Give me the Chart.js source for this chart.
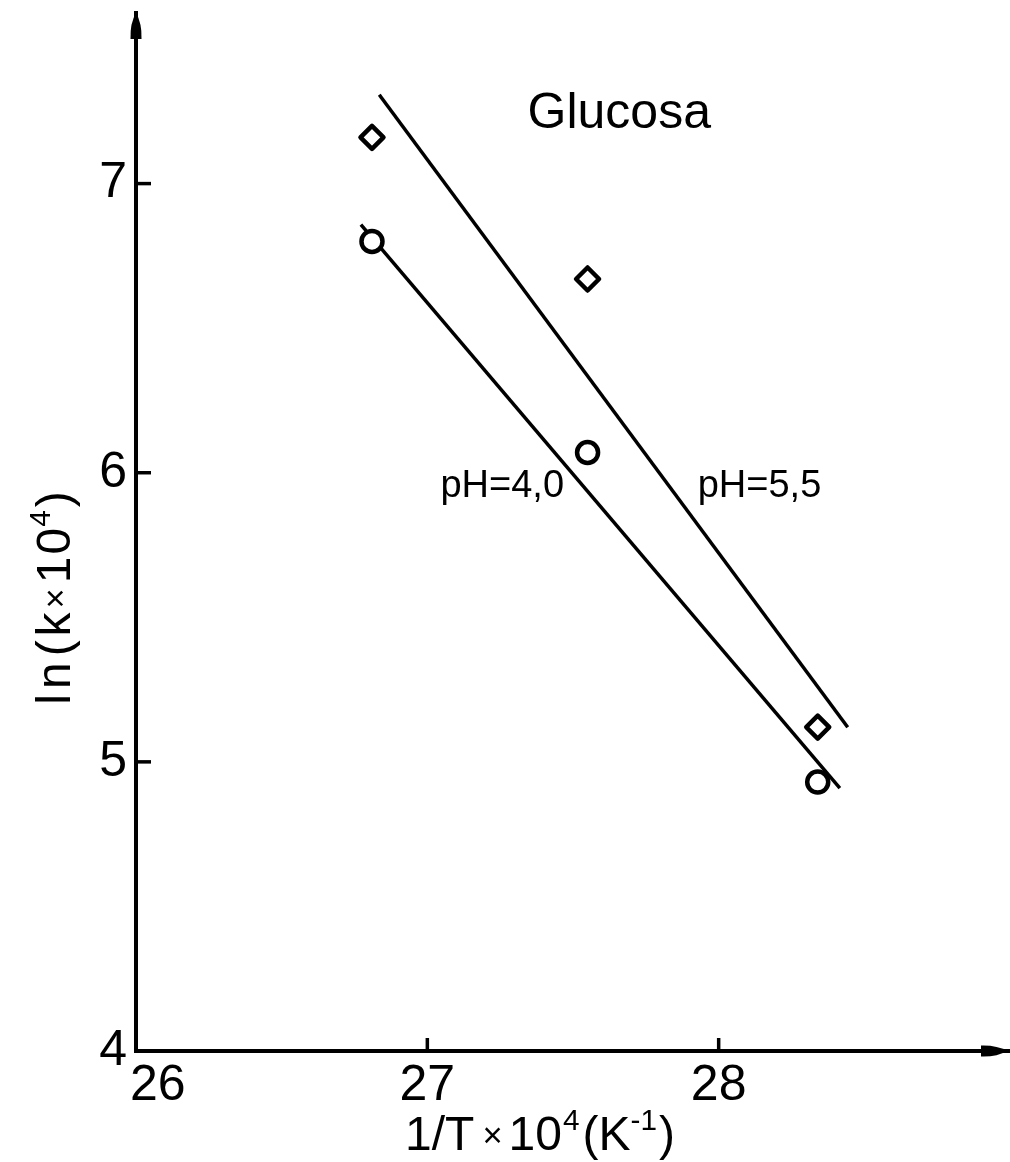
<!DOCTYPE html>
<html>
<head>
<meta charset="utf-8">
<script src="https://cdn.jsdelivr.net/npm/chart.js@4.4.1/dist/chart.umd.min.js"></script>
<style>
  html, body { margin: 0; padding: 0; background: #fff; }
  canvas { display: block; }
</style>
</head>
<body>
<canvas id="c" width="1010" height="1162"></canvas>
<script>
// 1/T x 10^4 (K^-1) for the three runs
const invT = [26.81, 27.55, 28.34];
// ln(k x 10^4) measured at pH 5.5 (diamonds) and pH 4.0 (circles)
const lnK_pH55 = [7.16, 6.67, 5.12];
const lnK_pH40 = [6.80, 6.07, 4.93];
// end points of the two fitted straight lines
const fit55X = [26.835, 28.443];
const fit55Y = [7.307, 5.120];
const fit40X = [26.772, 28.416];
const fit40Y = [6.858, 4.909];
// axis ticks and ranges
const xTicks = [26, 27, 28];
const yTicks = [4, 5, 6, 7];
const xRange = [26, 29];
const yRange = [4, 7.59];

const FONT = "'Liberation Sans', Arial, sans-serif";
const INK = '#000';

const toXY = (xs, ys) => xs.map((x, i) => ({ x, y: ys[i] }));

// draws a run of text pieces (with optional superscripts), centred on the origin
function drawRich(ctx, parts, size) {
  const items = [];
  parts.forEach(p => {
    const fs = size * (p.scale || 1);
    ctx.font = `${fs}px ${FONT}`;
    items.push({ t: p.t, fs, w: ctx.measureText(p.t).width, gap: p.gap || 0, rise: p.sup ? size * 0.42 : (p.rise || 0) });
  });
  const total = items.reduce((s, it) => s + it.w + it.gap, 0);
  let cx = -total / 2;
  ctx.textAlign = 'left';
  ctx.textBaseline = 'alphabetic';
  items.forEach(it => {
    cx += it.gap;
    ctx.font = `${it.fs}px ${FONT}`;
    ctx.fillText(it.t, cx, -it.rise);
    cx += it.w;
  });
}

const decor = {
  id: 'decor',
  beforeDatasetsDraw(chart) {
    chart.ctx.lineJoin = 'round';
  },
  afterDraw(chart, args, opts) {
    const { ctx, chartArea: a, scales: { x, y } } = chart;
    ctx.save();
    ctx.strokeStyle = INK;
    ctx.fillStyle = INK;
    ctx.lineWidth = 3.5;

    // inward tick marks
    xTicks.forEach(v => {
      if (v === x.min) return;
      const px = x.getPixelForValue(v);
      ctx.beginPath(); ctx.moveTo(px, a.bottom); ctx.lineTo(px, a.bottom - 13); ctx.stroke();
    });
    yTicks.forEach(v => {
      if (v === y.min) return;
      const py = y.getPixelForValue(v);
      ctx.beginPath(); ctx.moveTo(a.left, py); ctx.lineTo(a.left + 15, py); ctx.stroke();
    });

    // arrowheads at the ends of both axes
    const ax = a.left, ay = a.top;
    ctx.beginPath();
    ctx.moveTo(ax, ay);
    ctx.quadraticCurveTo(ax + 6, ay + 10, ax + 5.5, ay + 26);
    ctx.lineTo(ax - 5.5, ay + 26);
    ctx.quadraticCurveTo(ax - 6, ay + 10, ax, ay);
    ctx.fill();
    const bx = a.right - 3, by = a.bottom;
    ctx.beginPath();
    ctx.moveTo(bx, by);
    ctx.quadraticCurveTo(bx - 10, by - 6, bx - 26, by - 5.5);
    ctx.lineTo(bx - 26, by + 5.5);
    ctx.quadraticCurveTo(bx - 10, by + 6, bx, by);
    ctx.fill();

    // x tick labels
    ctx.font = `50px ${FONT}`;
    ctx.textBaseline = 'alphabetic';
    xTicks.forEach((v, i) => {
      const px = x.getPixelForValue(v);
      if (i === 0) { ctx.textAlign = 'left'; ctx.fillText(String(v), px - 6, a.bottom + 49); }
      else { ctx.textAlign = 'center'; ctx.fillText(String(v), px, a.bottom + 49); }
    });

    // axis titles
    ctx.save();
    ctx.translate(a.left + 404, a.bottom + 99);
    drawRich(ctx, [
      { t: '1/T' },
      { t: '×', scale: 0.72, gap: 8, rise: 3 },
      { t: '10', gap: 6 },
      { t: '4', scale: 0.62, sup: true, gap: 1 },
      { t: '(K', gap: 3 },
      { t: '-1', scale: 0.62, sup: true, gap: 0 },
      { t: ')', gap: 2 }
    ], 48);
    ctx.restore();

    ctx.save();
    ctx.translate(70, 598);
    ctx.rotate(-Math.PI / 2);
    drawRich(ctx, [
      { t: 'l' },
      { t: 'n', gap: 5 },
      { t: '(', gap: 6 },
      { t: 'k', gap: 4 },
      { t: '×', scale: 0.72, gap: 4, rise: 3 },
      { t: '1', gap: 5 },
      { t: '0', gap: 2 },
      { t: '4', scale: 0.62, sup: true, gap: 1 },
      { t: ')', gap: 3 }
    ], 48);
    ctx.restore();

    // text placed on the plot in data coordinates
    opts.notes.forEach(n => {
      ctx.font = `${n.size}px ${FONT}`;
      ctx.textAlign = 'left';
      ctx.textBaseline = 'alphabetic';
      ctx.fillText(n.text, x.getPixelForValue(n.x), y.getPixelForValue(n.y));
    });
    ctx.restore();
  }
};

new Chart(document.getElementById('c'), {
  type: 'scatter',
  data: {
    datasets: [
      {
        label: 'pH=5,5',
        data: toXY(invT, lnK_pH55),
        pointStyle: 'rectRot',
        pointRadius: 11.5,
        pointBorderWidth: 4.5,
        borderColor: INK,
        backgroundColor: '#fff',
        showLine: false
      },
      {
        label: 'pH=4,0',
        data: toXY(invT, lnK_pH40),
        pointStyle: 'circle',
        pointRadius: 10.5,
        pointBorderWidth: 4.5,
        borderColor: INK,
        backgroundColor: '#fff',
        showLine: false
      },
      {
        label: 'ajuste pH=5,5',
        data: toXY(fit55X, fit55Y),
        showLine: true,
        pointRadius: 0,
        borderWidth: 3.5,
        borderColor: INK,
        fill: false
      },
      {
        label: 'ajuste pH=4,0',
        data: toXY(fit40X, fit40Y),
        showLine: true,
        pointRadius: 0,
        borderWidth: 3.5,
        borderColor: INK,
        fill: false
      }
    ]
  },
  options: {
    responsive: false,
    animation: false,
    devicePixelRatio: 1,
    layout: { autoPadding: false, padding: { top: 13, right: 0, bottom: 0, left: 0 } },
    plugins: {
      legend: { display: false },
      tooltip: { enabled: false },
      decor: {
        notes: [
          { text: 'Glucosa', x: 27.344, y: 7.193, size: 50 },
          { text: 'pH=4,0', x: 27.045, y: 5.916, size: 38 },
          { text: 'pH=5,5', x: 27.928, y: 5.916, size: 38 }
        ]
      }
    },
    scales: {
      x: {
        type: 'linear',
        min: xRange[0],
        max: xRange[1],
        grid: { display: false },
        border: { display: true, width: 4, color: INK },
        ticks: { display: false, stepSize: 1, includeBounds: false },
        afterFit(s) { s.height = 111; s.paddingLeft = 0; s.paddingRight = 0; }
      },
      y: {
        type: 'linear',
        min: yRange[0],
        max: yRange[1],
        grid: { display: false },
        border: { display: true, width: 4, color: INK },
        ticks: {
          stepSize: 1,
          includeBounds: false,
          padding: 1,
          color: INK,
          font: { family: FONT, size: 50 },
          callback: v => (yTicks.includes(v) ? String(v) : '')
        },
        afterFit(s) { s.width = 136; s.paddingTop = 0; s.paddingBottom = 0; }
      }
    }
  },
  plugins: [decor]
});
</script>
</body>
</html>
